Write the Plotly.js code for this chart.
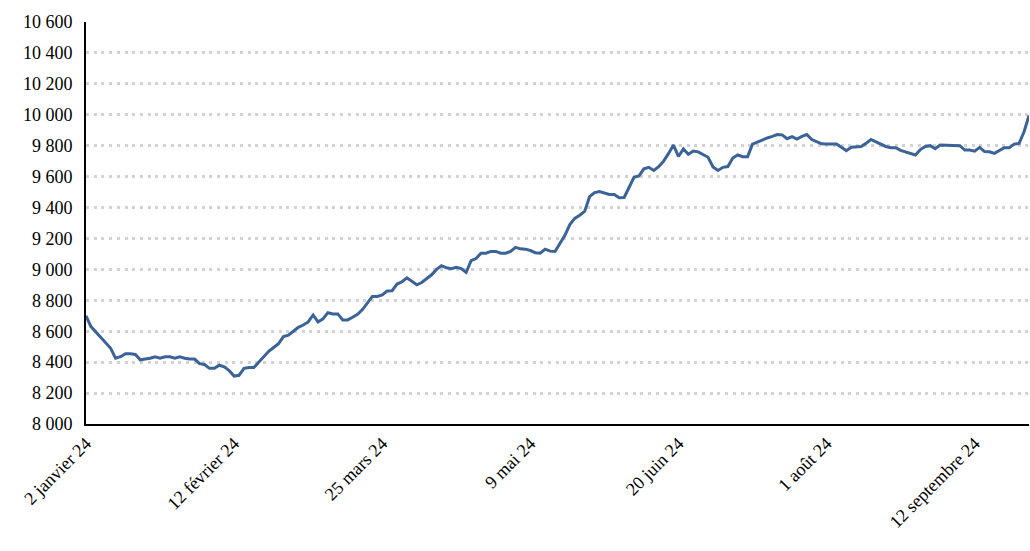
<!DOCTYPE html>
<html>
<head>
<meta charset="utf-8">
<script src="https://cdn.plot.ly/plotly-3.0.1.min.js"></script>
<style>html,body{margin:0;padding:0;background:#fff;}#chart{width:1030px;height:551px;}</style>
</head>
<body>
<div id="chart"></div>
<script>
// Index of each trading day (2 Jan 24 .. 27 Sep 24)
const seriesValues = [
  8700, 8630, 8595, 8560, 8520, 8490, 8425, 8435, 8455, 8455,
  8450, 8415, 8420, 8425, 8435, 8425, 8435, 8435, 8425, 8435,
  8425, 8420, 8420, 8390, 8385, 8360, 8360, 8380, 8370, 8345,
  8310, 8315, 8360, 8365, 8365, 8400, 8440, 8470, 8495, 8520,
  8565, 8575, 8600, 8625, 8640, 8660, 8705, 8660, 8680, 8720,
  8712, 8712, 8673, 8673, 8690, 8710, 8740, 8780, 8825, 8825,
  8835, 8860, 8862, 8905, 8920, 8945, 8923, 8900, 8915, 8940,
  8965, 9000, 9024, 9010, 9005, 9013, 9005, 8980, 9056, 9070,
  9105, 9105, 9116, 9116, 9105, 9105, 9116, 9142, 9133, 9131,
  9122, 9108, 9105, 9131, 9118, 9116, 9170, 9220, 9290, 9330,
  9350, 9375, 9470, 9497, 9503, 9495, 9484, 9484, 9463, 9465,
  9530, 9596, 9605, 9650, 9660, 9640, 9665, 9700, 9750, 9804,
  9730, 9779, 9745, 9765, 9760, 9745, 9725, 9662, 9640, 9660,
  9665, 9720, 9740, 9729, 9729, 9810, 9825, 9835, 9850, 9860,
  9872, 9870, 9845, 9858, 9843, 9860, 9872, 9840, 9828, 9812,
  9811, 9811, 9811, 9790, 9768, 9790, 9794, 9794, 9815, 9840,
  9825, 9810, 9795, 9787, 9787, 9770, 9760, 9745, 9740, 9775,
  9795, 9800, 9780, 9804, 9804, 9804, 9804, 9800, 9772, 9772,
  9765, 9789, 9762, 9761, 9750, 9770, 9787, 9787, 9810, 9815,
  9890, 9995
];
const dayIndex = seriesValues.map((v, i) => i);
const tickPositions = [0, 30, 60, 90, 120, 150, 180];
const tickLabels = ["2 janvier 24", "12 février 24", "25 mars 24", "9 mai 24", "20 juin 24", "1 août 24", "12 septembre 24"];
const yTicks = [8000, 8200, 8400, 8600, 8800, 9000, 9200, 9400, 9600, 9800, 10000, 10200, 10400, 10600];

const trace = {
  x: dayIndex,
  y: seriesValues,
  type: 'scatter',
  mode: 'lines',
  line: {color: '#3b6397', width: 3},
  hoverinfo: 'y',
  cliponaxis: false
};

const layout = {
  width: 1030,
  height: 551,
  margin: {l: 86, r: 1, t: 22, b: 127},
  paper_bgcolor: '#fff',
  plot_bgcolor: '#fff',
  showlegend: false,
  separators: ', ',
  font: {family: '"Liberation Serif", "Times New Roman", serif', size: 18, color: '#000'},
  xaxis: {
    range: [0, seriesValues.length - 1],
    tickmode: 'array',
    tickvals: tickPositions,
    ticktext: tickLabels,
    tickangle: -45,
    showgrid: false,
    zeroline: false,
    showline: true,
    linecolor: '#000',
    linewidth: 2,
    ticks: '',
    tickfont: {size: 18}
  },
  yaxis: {
    range: [8000, 10600],
    tickmode: 'array',
    tickvals: yTicks,
    tickformat: ',d',
    separatethousands: true,
    showgrid: true,
    gridcolor: '#d3d3d3',
    gridwidth: 3,
    griddash: '3px,4.7px',
    zeroline: false,
    showline: true,
    linecolor: '#000',
    linewidth: 2,
    ticks: '',
    ticklabelstandoff: 8,
    tickfont: {size: 18}
  }
};

Plotly.newPlot('chart', [trace], layout, {staticPlot: true, displayModeBar: false});
</script>
</body>
</html>
